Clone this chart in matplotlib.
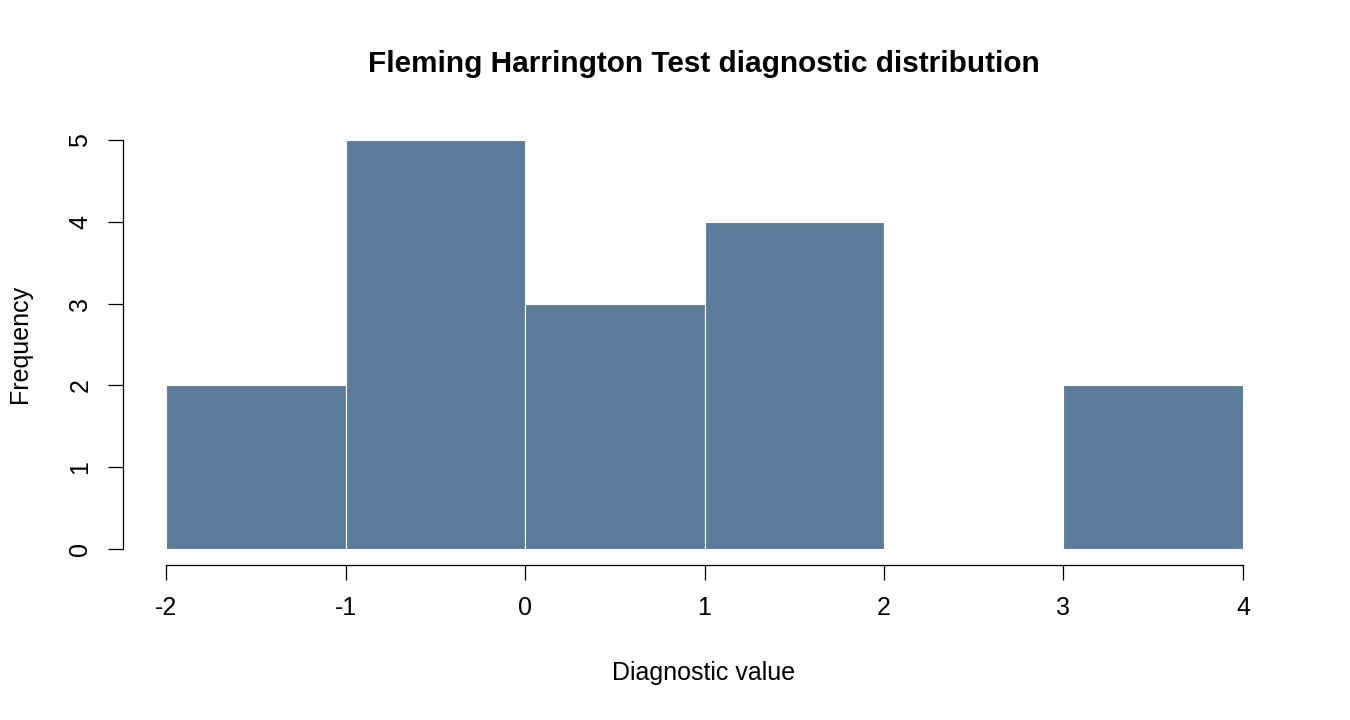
import matplotlib
matplotlib.use("Agg")
import matplotlib.pyplot as plt
import numpy as np

plt.rcParams['font.family'] = ['Liberation Sans', 'DejaVu Sans']

# histogram bins and counts
bin_edges = [-2, -1, 0, 1, 2, 3, 4]
counts = [2, 5, 3, 4, 0, 2]
x_ticks = [-2, -1, 0, 1, 2, 3, 4]
y_ticks = [0, 1, 2, 3, 4, 5]

bar_color = '#5b7d99'

fig = plt.figure(figsize=(13.5, 7.2), dpi=100)
ax = fig.add_axes([123/1350, 1-565/720, (1286-123)/1350, (565-124)/720])

edges = np.array(bin_edges, dtype=float)
ax.bar(edges[:-1], counts, width=np.diff(edges), align='edge',
       color=bar_color, edgecolor='white', linewidth=0.8)

ax.set_xlim(-2.24, 4.24)
ax.set_ylim(-0.2, 5.2)

for s in ['top', 'right']:
    ax.spines[s].set_visible(False)
ax.spines['left'].set_bounds(0, 5)
ax.spines['bottom'].set_bounds(-2, 4)
for s in ['left', 'bottom']:
    ax.spines[s].set_linewidth(0.9)

ax.set_xticks(x_ticks)
ax.set_xticklabels([str(v) for v in x_ticks])
ax.set_yticks(y_ticks)
ax.set_yticklabels([str(v) for v in y_ticks], rotation=90, va='center')
ax.tick_params(axis='both', direction='out', length=11, width=0.9,
               labelsize=18, pad=11)

fig.text(704/1350, 1-64/720, 'Fleming Harrington Test diagnostic distribution',
         ha='center', va='center', fontsize=21.4, fontweight='bold')
fig.text(704/1350, 1-673/720, 'Diagnostic value', ha='center', va='center',
         fontsize=18)
fig.text(20/1350, 1-344/720, 'Frequency', ha='center', va='center',
         fontsize=18, rotation=90)

fig.savefig('out.png', dpi=100)
